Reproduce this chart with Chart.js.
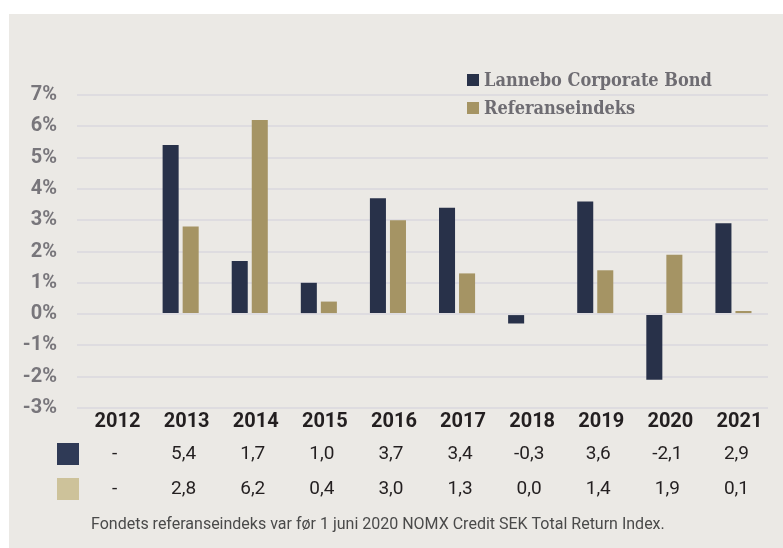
<!DOCTYPE html>
<html>
<head>
<meta charset="utf-8">
<script src="https://cdn.jsdelivr.net/npm/chart.js@4"></script>
<style>
  html, body { margin: 0; padding: 0; background: #ffffff; }
  #panel { position: absolute; left: 9px; top: 14px; width: 774px; height: 534px; background: #ebe9e5; }
</style>
</head>
<body>
<div id="panel"><canvas id="returnsChart"></canvas></div>
<script>
// Data
const years = ['2012', '2013', '2014', '2015', '2016', '2017', '2018', '2019', '2020', '2021'];
const fundReturns = [null, 5.4, 1.7, 1.0, 3.7, 3.4, -0.3, 3.6, -2.1, 2.9];
const indexReturns = [null, 2.8, 6.2, 0.4, 3.0, 1.3, 0.0, 1.4, 1.9, 0.1];
const seriesNames = ['Lannebo Corporate Bond', 'Referanseindeks'];
const footnote = 'Fondets referanseindeks var før 1 juni 2020 NOMX Credit SEK Total Return Index.';

const barColors = ['#283149', '#a59464'];
const swatchColors = ['#2f3a56', '#cdc29a'];

function fmt(v) {
  return v === null ? '-' : v.toFixed(1).replace('.', ',');
}

// legend drawn over the plot + value table under the axis
const extras = {
  id: 'extras',
  afterDraw(chart) {
    const ctx = chart.ctx;
    const xs = chart.scales.x;
    ctx.save();

    // legend
    chart.data.datasets.forEach((ds, i) => {
      const y = 66 + i * 28;
      ctx.fillStyle = ds.backgroundColor;
      ctx.fillRect(458, y - 6, 12, 12);
      ctx.fillStyle = '#6e6c72';
      ctx.font = 'bold 18px "DejaVu Serif Condensed", "DejaVu Serif", serif';
      ctx.textAlign = 'left';
      ctx.textBaseline = 'middle';
      ctx.fillText(ds.label, 475, y + 1);
    });

    // table rows
    chart.data.datasets.forEach((ds, d) => {
      const y = 440 + d * 35;
      ctx.fillStyle = swatchColors[d];
      ctx.fillRect(48, y - 11, 22, 22);
      ctx.fillStyle = '#231f20';
      ctx.font = '19px Roboto, sans-serif';
      ctx.textAlign = 'center';
      ctx.textBaseline = 'middle';
      ds.data.forEach((v, i) => {
        ctx.fillText(fmt(v), xs.getPixelForValue(i) + 3, y);
      });
    });

    // footnote
    ctx.fillStyle = '#4a4a4a';
    ctx.font = '16px Roboto, sans-serif';
    ctx.textAlign = 'left';
    ctx.fillText(footnote, 82, 511);
    ctx.restore();
  }
};

const ctx = document.getElementById('returnsChart').getContext('2d');

new Chart(ctx, {
  type: 'bar',
  data: {
    labels: years,
    datasets: [{
      label: seriesNames[0],
      data: fundReturns,
      backgroundColor: barColors[0]
    }, {
      label: seriesNames[1],
      data: indexReturns,
      backgroundColor: barColors[1]
    }]
  },
  options: {
    responsive: true,
    maintainAspectRatio: false,
    animation: false,
    categoryPercentage: 0.58,
    barPercentage: 0.8,
    layout: { padding: { top: 81, right: 15, left: 0, bottom: 0 } },
    plugins: {
      legend: { display: false },
      tooltip: { enabled: false }
    },
    scales: {
      x: {
        grid: { display: false, drawTicks: false },
        border: { display: false },
        ticks: {
          color: '#231f20',
          font: { family: 'Roboto', size: 20, weight: 'bold' },
          padding: 2,
          labelOffset: 6,
          maxRotation: 0
        },
        afterFit: s => { s.height = 140; }
      },
      y: {
        min: -3,
        max: 7,
        grid: { color: '#dedce0', lineWidth: 2, drawTicks: false },
        border: { display: false },
        ticks: {
          stepSize: 1,
          color: '#78767b',
          font: { family: 'Roboto', size: 20, weight: 'bold' },
          padding: 20,
          callback: v => v + '%'
        },
        afterFit: s => { s.width = 68; }
      }
    }
  },
  plugins: [extras]
});
</script>
</body>
</html>
